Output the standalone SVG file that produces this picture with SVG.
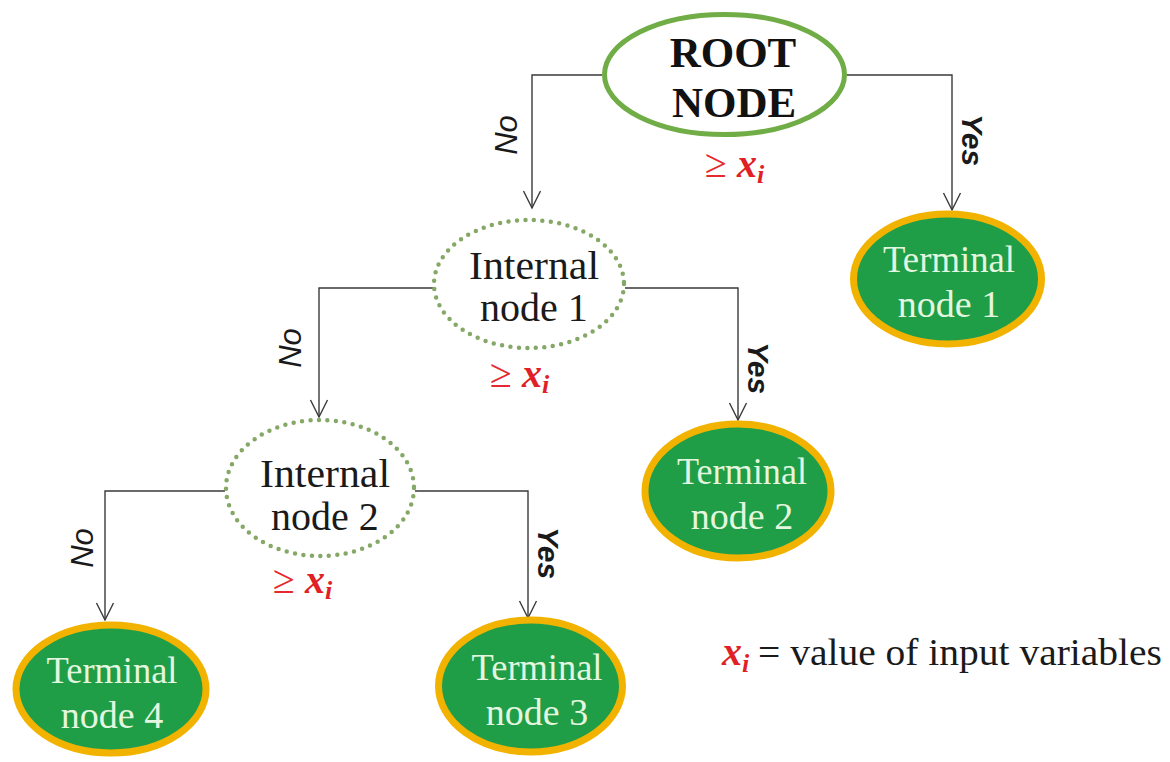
<svg xmlns="http://www.w3.org/2000/svg" width="1170" height="762" viewBox="0 0 1170 762">
<defs>
<marker id="arr" viewBox="0 0 20 20" refX="18" refY="10" markerWidth="20" markerHeight="20" markerUnits="userSpaceOnUse" orient="auto">
<path d="M1,1.5 L18,10 L1,18.5" fill="none" stroke="#3a3a3a" stroke-width="1.4"/>
</marker>
<style>
.edge{fill:none;stroke:#3a3a3a;stroke-width:1.4}
.root{fill:#fff;stroke:#70ad47;stroke-width:5}
.inner{fill:#fff;stroke:#86a866;stroke-width:4.5;stroke-dasharray:0 8.5;stroke-linecap:round}
.term{fill:#1f9e47;stroke:#f2b300;stroke-width:7}
.lbl{font-family:"Liberation Serif","Times New Roman",serif;font-size:40px;fill:#1a1a1a;text-anchor:middle}
.rootlbl{font-family:"Liberation Serif","Times New Roman",serif;font-size:43px;font-weight:bold;fill:#111;text-anchor:middle}
.tlbl{font-family:"Liberation Serif","Times New Roman",serif;font-size:38px;fill:#e4f6df;text-anchor:middle}
.no{font-family:"Liberation Sans",Arial,sans-serif;font-size:31px;font-style:italic;fill:#1a1a1a;text-anchor:middle}
.yes{font-family:"Liberation Sans",Arial,sans-serif;font-size:30px;font-style:italic;font-weight:bold;fill:#1a1a1a;text-anchor:middle}
.cond{font-family:"Liberation Serif","Times New Roman",serif;font-size:40px;fill:#e42a2f}
.xv{font-weight:bold;font-style:italic;font-size:40px;fill:#e01f26}
.sub{font-weight:bold;font-style:italic;font-size:26px;fill:#e01f26}
.legend{font-family:"Liberation Serif","Times New Roman",serif;font-size:38px;fill:#1a1a1a}
</style>
</defs>
<rect width="1170" height="762" fill="#fff"/>

<g id="connectors">
<path class="edge" d="M602,75 H532 V208" marker-end="url(#arr)"/>
<path class="edge" d="M847,75 H952 V210" marker-end="url(#arr)"/>
<path class="edge" d="M433,288 H319 V417" marker-end="url(#arr)"/>
<path class="edge" d="M625,288 H738 V420" marker-end="url(#arr)"/>
<path class="edge" d="M225,491 H105 V620" marker-end="url(#arr)"/>
<path class="edge" d="M415,491 H528 V618" marker-end="url(#arr)"/>
<text class="no" transform="translate(517,135) rotate(-90)">No</text>
<text class="yes" transform="translate(962,140) rotate(90)">Yes</text>
<text class="no" transform="translate(301,348) rotate(-90)">No</text>
<text class="yes" transform="translate(748,368) rotate(90)">Yes</text>
<text class="no" transform="translate(93,548) rotate(-90)">No</text>
<text class="yes" transform="translate(538,553) rotate(90)">Yes</text>
</g>

<g id="root-node">
<ellipse class="root" cx="724.5" cy="74.5" rx="120" ry="60"/>
<text class="rootlbl" x="733" y="67">ROOT</text>
<text class="rootlbl" x="734" y="117">NODE</text>
<text class="cond" x="705" y="177">≥ <tspan class="xv">x</tspan><tspan class="sub" dy="6">i</tspan></text>
</g>

<g id="internal-node-1">
<ellipse class="inner" cx="529" cy="284" rx="95" ry="64"/>
<text class="lbl" x="534" y="279" textLength="130" lengthAdjust="spacingAndGlyphs">Internal</text>
<text class="lbl" x="534" y="321">node 1</text>
<text class="cond" x="490" y="387">≥ <tspan class="xv">x</tspan><tspan class="sub" dy="6">i</tspan></text>
</g>

<g id="internal-node-2">
<ellipse class="inner" cx="320" cy="488" rx="94" ry="68"/>
<text class="lbl" x="325" y="487" textLength="130" lengthAdjust="spacingAndGlyphs">Internal</text>
<text class="lbl" x="325" y="530">node 2</text>
<text class="cond" x="273" y="593">≥ <tspan class="xv">x</tspan><tspan class="sub" dy="6">i</tspan></text>
</g>

<g id="terminal-node-1">
<ellipse class="term" cx="947.5" cy="279" rx="94" ry="65"/>
<text class="tlbl" x="949" y="272" textLength="132" lengthAdjust="spacingAndGlyphs">Terminal</text>
<text class="tlbl" x="949" y="317">node 1</text>
</g>

<g id="terminal-node-2">
<ellipse class="term" cx="738" cy="491" rx="93" ry="67"/>
<text class="tlbl" x="742" y="484" textLength="130" lengthAdjust="spacingAndGlyphs">Terminal</text>
<text class="tlbl" x="742" y="529">node 2</text>
</g>

<g id="terminal-node-3">
<ellipse class="term" cx="530.5" cy="686" rx="92" ry="66"/>
<text class="tlbl" x="537" y="680" textLength="131" lengthAdjust="spacingAndGlyphs">Terminal</text>
<text class="tlbl" x="537" y="725">node 3</text>
</g>

<g id="terminal-node-4">
<ellipse class="term" cx="111" cy="689" rx="95" ry="64"/>
<text class="tlbl" x="112" y="683" textLength="131" lengthAdjust="spacingAndGlyphs">Terminal</text>
<text class="tlbl" x="112" y="728">node 4</text>
</g>

<g id="legend">
<text class="cond" x="722" y="665"><tspan class="xv">x</tspan><tspan class="sub" dy="7">i</tspan></text>
<text class="legend" x="758" y="665" textLength="404" lengthAdjust="spacingAndGlyphs">= value of input variables</text>
</g>
</svg>
